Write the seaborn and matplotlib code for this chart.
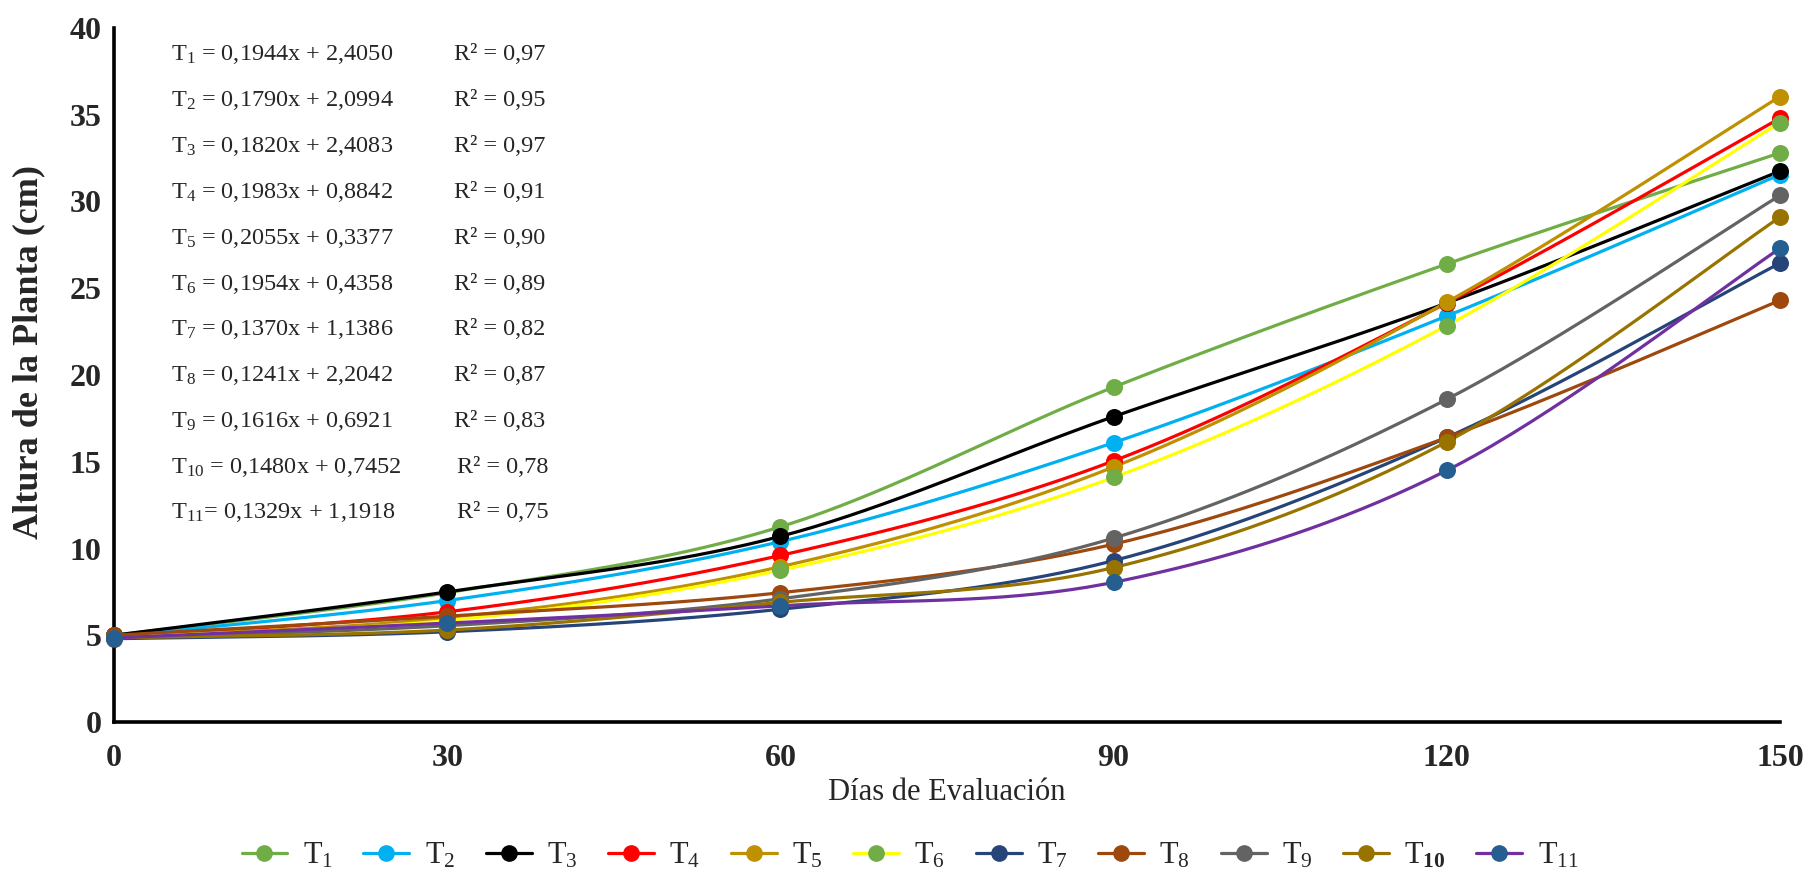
import numpy as np
import pandas as pd
import matplotlib
matplotlib.use("Agg")
import matplotlib.pyplot as plt
from matplotlib.lines import Line2D
import seaborn as sns

# ---------------- data ----------------
days = [0, 30, 60, 90, 120, 150]
T1 = [5.0, 7.45, 11.25, 19.3, 26.4, 32.8]
T2 = [4.95, 7.0, 10.4, 16.1, 23.4, 31.55]
T3 = [5.0, 7.5, 10.7, 17.6, 24.15, 31.75]
T4 = [4.9, 6.35, 9.6, 15.05, 24.15, 34.8]
T5 = [4.9, 6.0, 8.95, 14.7, 24.2, 36.05]
T6 = [4.9, 5.85, 8.75, 14.1, 22.85, 34.55]
T7 = [4.8, 5.2, 6.5, 9.3, 16.4, 26.45]
T8 = [5.0, 6.1, 7.45, 10.25, 16.4, 24.3]
T9 = [4.85, 5.55, 7.1, 10.6, 18.6, 30.35]
T10 = [4.85, 5.3, 6.9, 8.9, 16.15, 29.1]
T11 = [4.85, 5.7, 6.7, 8.05, 14.5, 27.3]

series_names = ["T1", "T2", "T3", "T4", "T5", "T6", "T7", "T8", "T9", "T10", "T11"]
series_values = [T1, T2, T3, T4, T5, T6, T7, T8, T9, T10, T11]
legend_labels = [r"T$_{1}$", r"T$_{2}$", r"T$_{3}$", r"T$_{4}$", r"T$_{5}$", r"T$_{6}$",
                 r"T$_{7}$", r"T$_{8}$", r"T$_{9}$", r"T$_{\mathbf{10}}$", r"T$_{11}$"]
line_colors = ["#70ad47", "#00b0f0", "#000000", "#ff0000", "#bf9000", "#ffff00",
               "#264478", "#9e480e", "#636363", "#997300", "#7030a0"]
marker_colors = ["#70ad47", "#00b0f0", "#000000", "#ff0000", "#bf9000", "#70ad47",
                 "#264478", "#9e480e", "#636363", "#997300", "#255e91"]

equations = [r"T$_{1}$ = 0,1944x + 2,4050", r"T$_{2}$ = 0,1790x + 2,0994",
             r"T$_{3}$ = 0,1820x + 2,4083", r"T$_{4}$ = 0,1983x + 0,8842",
             r"T$_{5}$ = 0,2055x + 0,3377", r"T$_{6}$ = 0,1954x + 0,4358",
             r"T$_{7}$ = 0,1370x + 1,1386", r"T$_{8}$ = 0,1241x + 2,2042",
             r"T$_{9}$ = 0,1616x + 0,6921", r"T$_{10}$ = 0,1480x + 0,7452",
             r"T$_{11}$= 0,1329x + 1,1918"]
r2_texts = ["R² = 0,97", "R² = 0,95", "R² = 0,97", "R² = 0,91", "R² = 0,90", "R² = 0,89",
            "R² = 0,82", "R² = 0,87", "R² = 0,83", "R² = 0,78", "R² = 0,75"]

# ---------------- style ----------------
sns.set_theme(style="white")
plt.rcParams["font.family"] = ["Liberation Serif", "DejaVu Serif"]
plt.rcParams["mathtext.fontset"] = "custom"
plt.rcParams["mathtext.rm"] = "Liberation Serif"
plt.rcParams["mathtext.it"] = "Liberation Serif:italic"
plt.rcParams["mathtext.bf"] = "Liberation Serif:bold"


def smooth(x, y, n=40):
    """Excel-like smoothed line (Catmull-Rom through the data points)."""
    x = np.asarray(x, float)
    y = np.asarray(y, float)
    px = np.concatenate([[x[0]], x, [x[-1]]])
    py = np.concatenate([[y[0]], y, [y[-1]]])
    xs, ys = [], []
    t = np.linspace(0, 1, n)
    for i in range(1, len(px) - 2):
        p0, p1, p2, p3 = (np.array([px[j], py[j]]) for j in (i - 1, i, i + 1, i + 2))
        b0 = p1
        b1 = p1 + (p2 - p0) / 6
        b2 = p2 - (p3 - p1) / 6
        b3 = p2
        c = ((1 - t) ** 3)[:, None] * b0 + (3 * (1 - t) ** 2 * t)[:, None] * b1 \
            + (3 * (1 - t) * t ** 2)[:, None] * b2 + (t ** 3)[:, None] * b3
        xs.append(c[:, 0])
        ys.append(c[:, 1])
    return np.concatenate(xs), np.concatenate(ys)


W, H = 1812, 874
fig = plt.figure(figsize=(W / 100, H / 100), dpi=100)
ax = fig.add_axes([114 / W, 1 - 722 / H, (1780 - 114) / W, (722 - 28) / H])

for name, vals, lc, mc in zip(series_names, series_values, line_colors, marker_colors):
    sx, sy = smooth(days, vals)
    sns.lineplot(x=sx, y=sy, ax=ax, color=lc, linewidth=2.3, sort=False,
                 estimator=None, clip_on=False)
    df = pd.DataFrame({"dias": days, "altura": vals})
    sns.scatterplot(data=df, x="dias", y="altura", ax=ax, color=mc, s=150,
                    edgecolor=mc, linewidth=0, clip_on=False, zorder=3)

ax.set_xlim(0, 150)
ax.set_ylim(0, 40)
ax.set_xticks(days)
ax.set_yticks(range(0, 41, 5))
ax.tick_params(axis="both", length=0, labelsize=23)
ax.tick_params(axis="x", pad=16)
ax.tick_params(axis="y", pad=9)
for lab in ax.get_xticklabels() + ax.get_yticklabels():
    lab.set_fontweight("bold")

for s in ["top", "right"]:
    ax.spines[s].set_visible(False)
for s in ["left", "bottom"]:
    ax.spines[s].set_color("black")
    ax.spines[s].set_linewidth(2.6)

ax.set_xlabel("Días de Evaluación", fontsize=22, va="center")
ax.xaxis.set_label_coords(0.5, (722 - 793) / (722 - 28))
ax.set_ylabel("Altura de la Planta (cm)", fontsize=26, fontweight="bold", va="center")
ax.yaxis.set_label_coords((29 - 114) / (1780 - 114), 0.533)
ax.grid(False)

# equations
for i, (eq, r2) in enumerate(zip(equations, r2_texts)):
    yy = 1 - (55 + i * 45.8) / H
    fig.text(171 / W, yy, eq, fontsize=17.5, va="center", ha="left")
    fig.text((454 if i < 9 else 457) / W, yy, r2, fontsize=17.5, va="center", ha="left")

# legend
handles = [Line2D([0], [0], color=lc, lw=2.3, marker="o", markersize=11,
                  markerfacecolor=mc, markeredgecolor=mc)
           for lc, mc in zip(line_colors, marker_colors)]
fig.legend(handles, legend_labels, loc="center", bbox_to_anchor=(910 / W, 1 - 856 / H),
           ncol=11, frameon=False, fontsize=22, handlelength=1.5, columnspacing=1.0,
           handletextpad=0.5)

fig.savefig("out.png", dpi=100)
